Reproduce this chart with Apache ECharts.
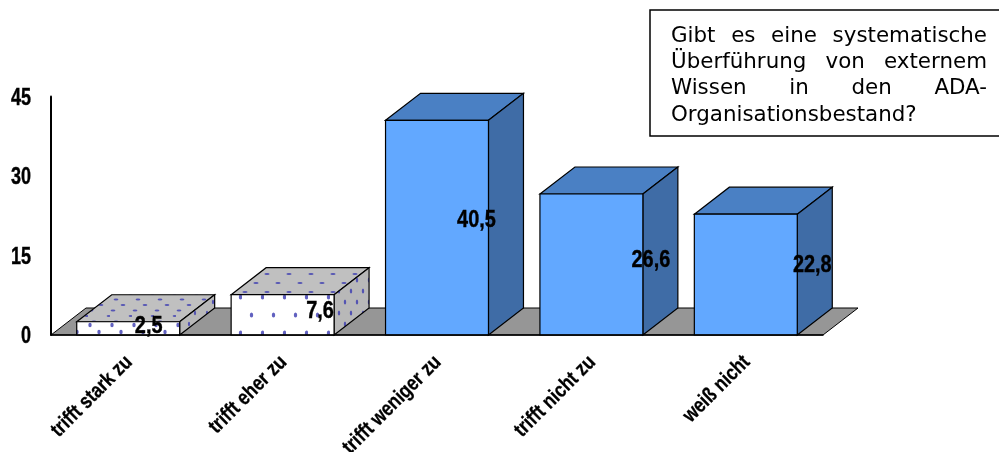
<!DOCTYPE html>
<html><head><meta charset="utf-8">
<style>html,body{margin:0;padding:0;background:#fff}#c{width:999px;height:452px}</style>
<script src="https://cdn.jsdelivr.net/npm/echarts@6/dist/echarts.min.js"></script>
</head><body><div id="c"></div>
<script>
const categories = ['trifft stark zu','trifft eher zu','trifft weniger zu','trifft nicht zu','weiß nicht'];
const values = [2.5,7.6,40.5,26.6,22.8];
const valueLabels = ['2,5','7,6','40,5','26,6','22,8'];
const yTickValues = [0,15,30,45];
const patterned = [true,true,false,false,false];
const labelOffsets = [[-31,-2.5],[-14,-3],[-12,-7.5],[8,-4],[15,-9]];
const titleLines = ['Gibt es eine systematische','Überführung von externem','Wissen in den ADA-','Organisationsbestand?'];

const DX=35, DY=-27, FRONT='#62a8ff', TOP='#4a80c4', SIDE='#3f6ca6';
const DOT='#3a3ab0', BOLD='"Liberation Sans"';
function pat(bg,draw,w,h){
  const c=document.createElement('canvas');c.width=w;c.height=h;
  const x=c.getContext('2d');x.fillStyle=bg;x.fillRect(0,0,w,h);x.fillStyle=DOT;draw(x);
  return {image:c,repeat:'repeat'};
}
const ell=(x,a,b,rx,ry)=>{x.globalAlpha=.8;x.beginPath();x.ellipse(a,b,rx,ry,0,0,Math.PI*2);x.fill();};
const fPat=[pat('#fff',x=>{ell(x,2,3,1.7,2.2);ell(x,11,10,1.7,2.2);},22,14),
            pat('#fff',x=>{ell(x,20.5,9,1.7,2.6);ell(x,9.5,27,1.7,2.6);},22,36)];
const tPat=[pat('#c0c0c0',x=>{[[3,2.5],[21,8],[6,13.5],[13,19]].forEach(p=>ell(x,p[0],p[1],2.4,.9));},22,22),
            pat('#c0c0c0',x=>{[[3,4],[14,13]].forEach(p=>ell(x,p[0],p[1],2.6,1));},22,18)];
const sPat=[pat('#b8b8b8',x=>{ell(x,3,5,1.1,2.2);ell(x,9,16,1.1,2.2);},12,22),
            pat('#b8b8b8',x=>{ell(x,3,5,1.2,2.6);ell(x,9,16,1.2,2.6);},12,22)];

const chart=echarts.init(document.getElementById('c'),null,{renderer:'canvas'});

const floor=(p,api)=>{
  const r=p.coordSys, y=api.coord([0,0])[1], l=r.x, e=r.x+r.width;
  return {type:'polygon',shape:{points:[[l,y],[l+DX,y+DY],[e+DX,y+DY],[e,y]]},
    style:{fill:'#969696',stroke:'#000',lineWidth:1}};
};
const bar=(p,api)=>{
  const i=api.value(0), v=api.value(1), b=api.coord([i,0]), t=api.coord([i,v]);
  const w=api.size([1,0])[0]*2/3, x0=b[0]-w/2, x1=b[0]+w/2, y0=b[1], y1=t[1];
  const pt=patterned[i], s={stroke:'#000',lineWidth:1.2}, off=labelOffsets[i];
  return {type:'group',children:[
    {type:'polygon',shape:{points:[[x0,y1],[x0+DX,y1+DY],[x1+DX,y1+DY],[x1,y1]]},style:{fill:pt?tPat[i]:TOP,...s}},
    {type:'polygon',shape:{points:[[x1,y1],[x1+DX,y1+DY],[x1+DX,y0+DY],[x1,y0]]},style:{fill:pt?sPat[i]:SIDE,...s}},
    {type:'rect',shape:{x:x0,y:y1,width:w,height:y0-y1},style:{fill:pt?fPat[i]:FRONT,...s}},
    {type:'text',z2:10,x:x1+off[0],y:(y0+y1)/2+off[1],scaleX:.83,
      style:{text:valueLabels[i],align:'center',verticalAlign:'middle',fill:'#000',stroke:'#000',lineWidth:.4,font:'bold 24px '+BOLD}}
  ]};
};
const yLabel=(p,api)=>{
  const v=api.value(0), c=api.coord([0,v]);
  return {type:'text',x:31,y:c[1]+1.5,scaleX:.75,style:{text:String(v),align:'right',verticalAlign:'middle',fill:'#000',stroke:'#000',lineWidth:.4,font:'bold 24px '+BOLD}};
};
const xLabel=(p,api)=>{
  const i=api.value(0), c=api.coord([i,0]);
  return {type:'text',x:c[0]+1,y:c[1]+24,rotation:Math.PI/4,scaleX:.83,
    style:{text:categories[i],align:'right',verticalAlign:'middle',fill:'#000',stroke:'#000',lineWidth:.3,font:'bold 21px '+BOLD}};
};

// justified title box
const FONT='21.4px "DejaVu Sans"', LX=671, RX=987, LY=[36.5,62.5,88,115];
const mc=document.createElement('canvas').getContext('2d');mc.font=FONT;
const titleEls=[];
titleLines.forEach((ln,k)=>{
  const ws=ln.split(' ');
  if(ws.length===1){titleEls.push({type:'text',x:LX,y:LY[k],style:{text:ln,font:FONT,fill:'#000',verticalAlign:'middle'}});return;}
  const tot=ws.reduce((a,w)=>a+mc.measureText(w).width,0), gap=(RX-LX-tot)/(ws.length-1);
  let x=LX;
  ws.forEach(w=>{titleEls.push({type:'text',x:x,y:LY[k],style:{text:w,font:FONT,fill:'#000',verticalAlign:'middle'}});x+=mc.measureText(w).width+gap;});
});

chart.setOption({
  animation:false,
  grid:{left:51,right:176,top:96.5,bottom:117,containLabel:false},
  xAxis:{type:'category',data:categories,z:5,
    axisLine:{show:true,lineStyle:{color:'#000',width:1.5}},axisTick:{show:false},axisLabel:{show:false}},
  yAxis:{type:'value',min:0,max:45,interval:15,z:5,splitLine:{show:false},
    axisLine:{show:true,lineStyle:{color:'#000',width:2}},axisTick:{show:false},axisLabel:{show:false}},
  series:[
    {type:'custom',z:1,renderItem:floor,data:[[0,0]],silent:true},
    {type:'custom',z:2,renderItem:bar,data:values.map((v,i)=>[i,v]),encode:{x:0,y:1}},
    {type:'custom',z:6,renderItem:yLabel,data:yTickValues.map(v=>[v]),silent:true},
    {type:'custom',z:6,renderItem:xLabel,data:categories.map((c,i)=>[i]),silent:true}
  ],
  graphic:{elements:[
    {type:'rect',z:20,shape:{x:650,y:10,width:360,height:126},style:{fill:'#fff',stroke:'#000',lineWidth:1.5}},
    ...titleEls.map(e=>({...e,z:21}))
  ]}
});
</script></body></html>
